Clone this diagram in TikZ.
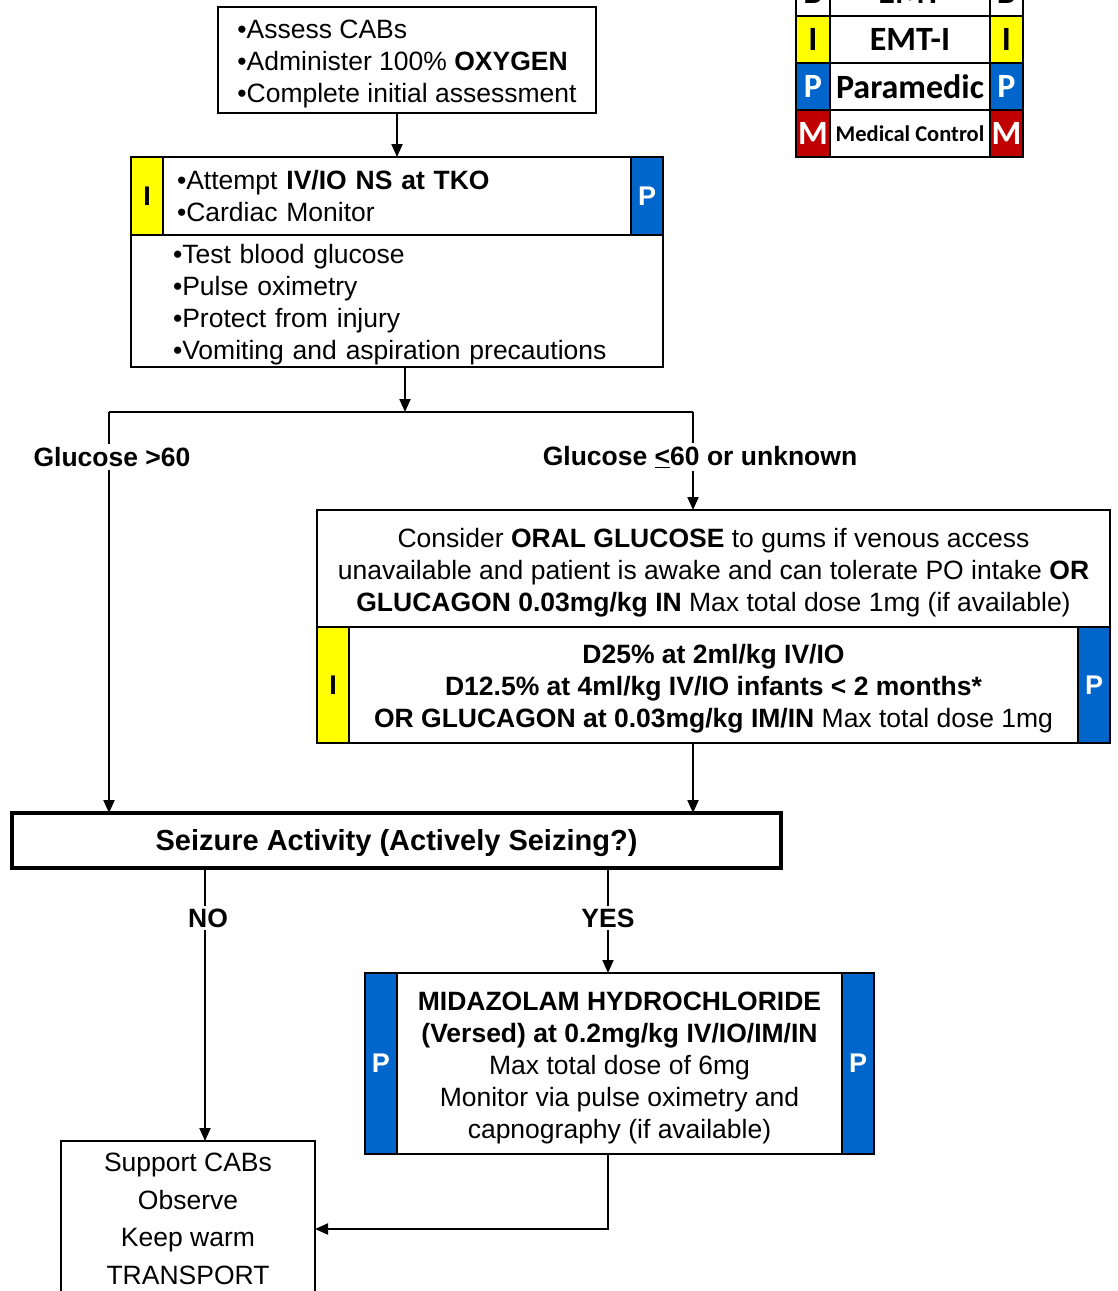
\documentclass[tikz,border=0pt]{standalone}
\usepackage{fontspec}
\setmainfont{Liberation Sans}
\newfontfamily\legendfont{Carlito}
\usetikzlibrary{arrows.meta,positioning}
\definecolor{ivyellow}{RGB}{255,255,0}
\definecolor{medblue}{RGB}{0,102,204}
\definecolor{mcred}{RGB}{192,0,0}
\newcommand{\firststrut}{\rule{0pt}{27pt}}

\begin{document}
\begin{tikzpicture}[x=1pt, y=-1pt, outer sep=0pt,
  every node/.style={font=\fontsize{26.5}{32}\selectfont},
  box/.style={draw, line width=2pt, inner sep=0pt},
  strip/.style={draw, line width=2pt, inner sep=0pt, anchor=north west, minimum width=32pt,
    font=\fontsize{27}{30}\selectfont\bfseries},
  lbl/.style={fill=white, inner sep=3pt, font=\fontsize{26.5}{30}\selectfont\bfseries},
  line/.style={line width=2pt},
  arr/.style={line width=2pt, -{Triangle[length=13pt,width=11pt]}},
  cell/.style={draw, fill=white, line width=2pt, inner sep=0pt, anchor=north west, minimum height=47pt,
    font=\legendfont\fontsize{34}{36}\selectfont\bfseries}
]
  \fill[white] (0,0) rectangle (1118,1291);
  \useasboundingbox (0,0) rectangle (1118,1291);

  % first steps
  \node[box, anchor=north west, inner xsep=19pt, minimum width=378pt, minimum height=106pt, align=left] (assess) at (218,7)
    {\firststrut\textbullet Assess CABs\\ \textbullet Administer 100\% \textbf{OXYGEN}\\ \textbullet Complete initial assessment};
  \node[box, anchor=north west, text width=440pt, inner xsep=46pt, minimum height=78pt, align=left] (iv) at (131,157)
    {\textbullet Attempt \textbf{IV/IO NS at TKO}\\ \textbullet Cardiac Monitor};
  \node[strip, fill=ivyellow, minimum height=78pt] (ivI) at (iv.north west) {I};
  \node[strip, fill=medblue, text=white, anchor=north east, minimum height=78pt] (ivP) at (iv.north east) {P};
  \node[box, anchor=north, text width=448pt, inner xsep=42pt, minimum height=132pt, align=left] (checks) at (iv.south)
    {\firststrut\textbullet Test blood glucose\\ \textbullet Pulse oximetry\\ \textbullet Protect from injury\\ \textbullet Vomiting and aspiration precautions};

  % low glucose
  \node[box, anchor=north west, minimum width=793pt, minimum height=117pt, align=center] (oral) at (317,510)
    {\firststrut Consider \textbf{ORAL GLUCOSE} to gums if venous access\\
     unavailable and patient is awake and can tolerate PO intake \textbf{OR}\\
     \textbf{GLUCAGON 0.03mg/kg IN} Max total dose 1mg (if available)};
  \node[box, anchor=north, minimum width=793pt, minimum height=116pt, align=center] (dex) at (oral.south)
    {\firststrut\textbf{D25\% at 2ml/kg IV/IO}\\
     \textbf{D12.5\% at 4ml/kg IV/IO infants < 2 months*}\\
     \textbf{OR GLUCAGON at 0.03mg/kg IM/IN} Max total dose 1mg};
  \node[strip, fill=ivyellow, minimum height=116pt] (dexI) at (dex.north west) {I};
  \node[strip, fill=medblue, text=white, anchor=north east, minimum height=116pt] (dexP) at (dex.north east) {P};

  % seizure
  \node[box, line width=3.5pt, anchor=north west, minimum width=769pt, minimum height=55pt,
    font=\fontsize{29}{32}\selectfont\bfseries] (seizure) at (12,813) {\firststrut Seizure Activity (Actively Seizing?)};
  \node[box, anchor=north west, minimum width=509pt, minimum height=181pt, align=center] (versed) at (365,973)
    {\firststrut\textbf{MIDAZOLAM HYDROCHLORIDE}\\ \textbf{(Versed) at 0.2mg/kg IV/IO/IM/IN}\\
     Max total dose of 6mg\\ Monitor via pulse oximetry and\\ capnography (if available)};
  \node[strip, fill=medblue, text=white, minimum height=181pt] (versedP) at (versed.north west) {P};
  \node[strip, fill=medblue, text=white, anchor=north east, minimum height=181pt] (versedP2) at (versed.north east) {P};
  \node[box, anchor=north west, minimum width=254pt, minimum height=156pt, align=center,
    font=\fontsize{26.5}{37.5}\selectfont] (support) at (61,1141)
    {Support CABs\\ Observe\\ Keep warm\\ TRANSPORT};

  % connectors
  \coordinate (split) at (405,412);
  \coordinate (gl) at (109,412);
  \coordinate (gr) at (693,412);
  \coordinate (nox) at (205,868);
  \coordinate (yesx) at (608,868);
  \draw[arr] (iv.north |- assess.south) -- (iv.north);
  \draw[arr] (checks.south -| split) -- (split);
  \draw[line] (gl) -- (gr);
  \draw[arr] (gl) -- (gl |- seizure.north);
  \draw[arr] (gr) -- (gr |- oral.north);
  \draw[arr] (dex.south -| gr) -- (gr |- seizure.north);
  \draw[arr] (nox) -- (nox |- support.north);
  \draw[arr] (yesx) -- (yesx |- versed.north);
  \draw[arr] (versed.south -| yesx) |- ([yshift=-10pt]support.east);

  \node[lbl] (high) at (112,457) {Glucose >60};
  \node[lbl] (low) at (700,457) {Glucose \underline{<}60 or unknown};
  \node[lbl] (no) at (208,918) {NO};
  \node[lbl] (yes) at (608,918) {YES};

  % legend
  \node[cell, minimum width=34pt] (legB) at (796,-31) {B};
  \node[cell, minimum width=160pt, right=0pt of legB] (legEMT) {EMT};
  \node[cell, minimum width=33pt, right=0pt of legEMT] (legB2) {B};
  \node[cell, fill=ivyellow, minimum width=34pt, below=0pt of legB] (legI) {I};
  \node[cell, minimum width=160pt, right=0pt of legI] (legEMTI) {EMT-I};
  \node[cell, fill=ivyellow, minimum width=33pt, right=0pt of legEMTI] (legI2) {I};
  \node[cell, fill=medblue, text=white, minimum width=34pt, below=0pt of legI] (legP) {P};
  \node[cell, minimum width=160pt, right=0pt of legP] (legPara) {Paramedic};
  \node[cell, fill=medblue, text=white, minimum width=33pt, right=0pt of legPara] (legP2) {P};
  \node[cell, fill=mcred, text=white, minimum width=34pt, below=0pt of legP] (legM) {M};
  \node[cell, minimum width=160pt, right=0pt of legM, font=\legendfont\fontsize{22.5}{24}\selectfont\bfseries] (legMC) {Medical Control};
  \node[cell, fill=mcred, text=white, minimum width=33pt, right=0pt of legMC] (legM2) {M};
\end{tikzpicture}
\end{document}
